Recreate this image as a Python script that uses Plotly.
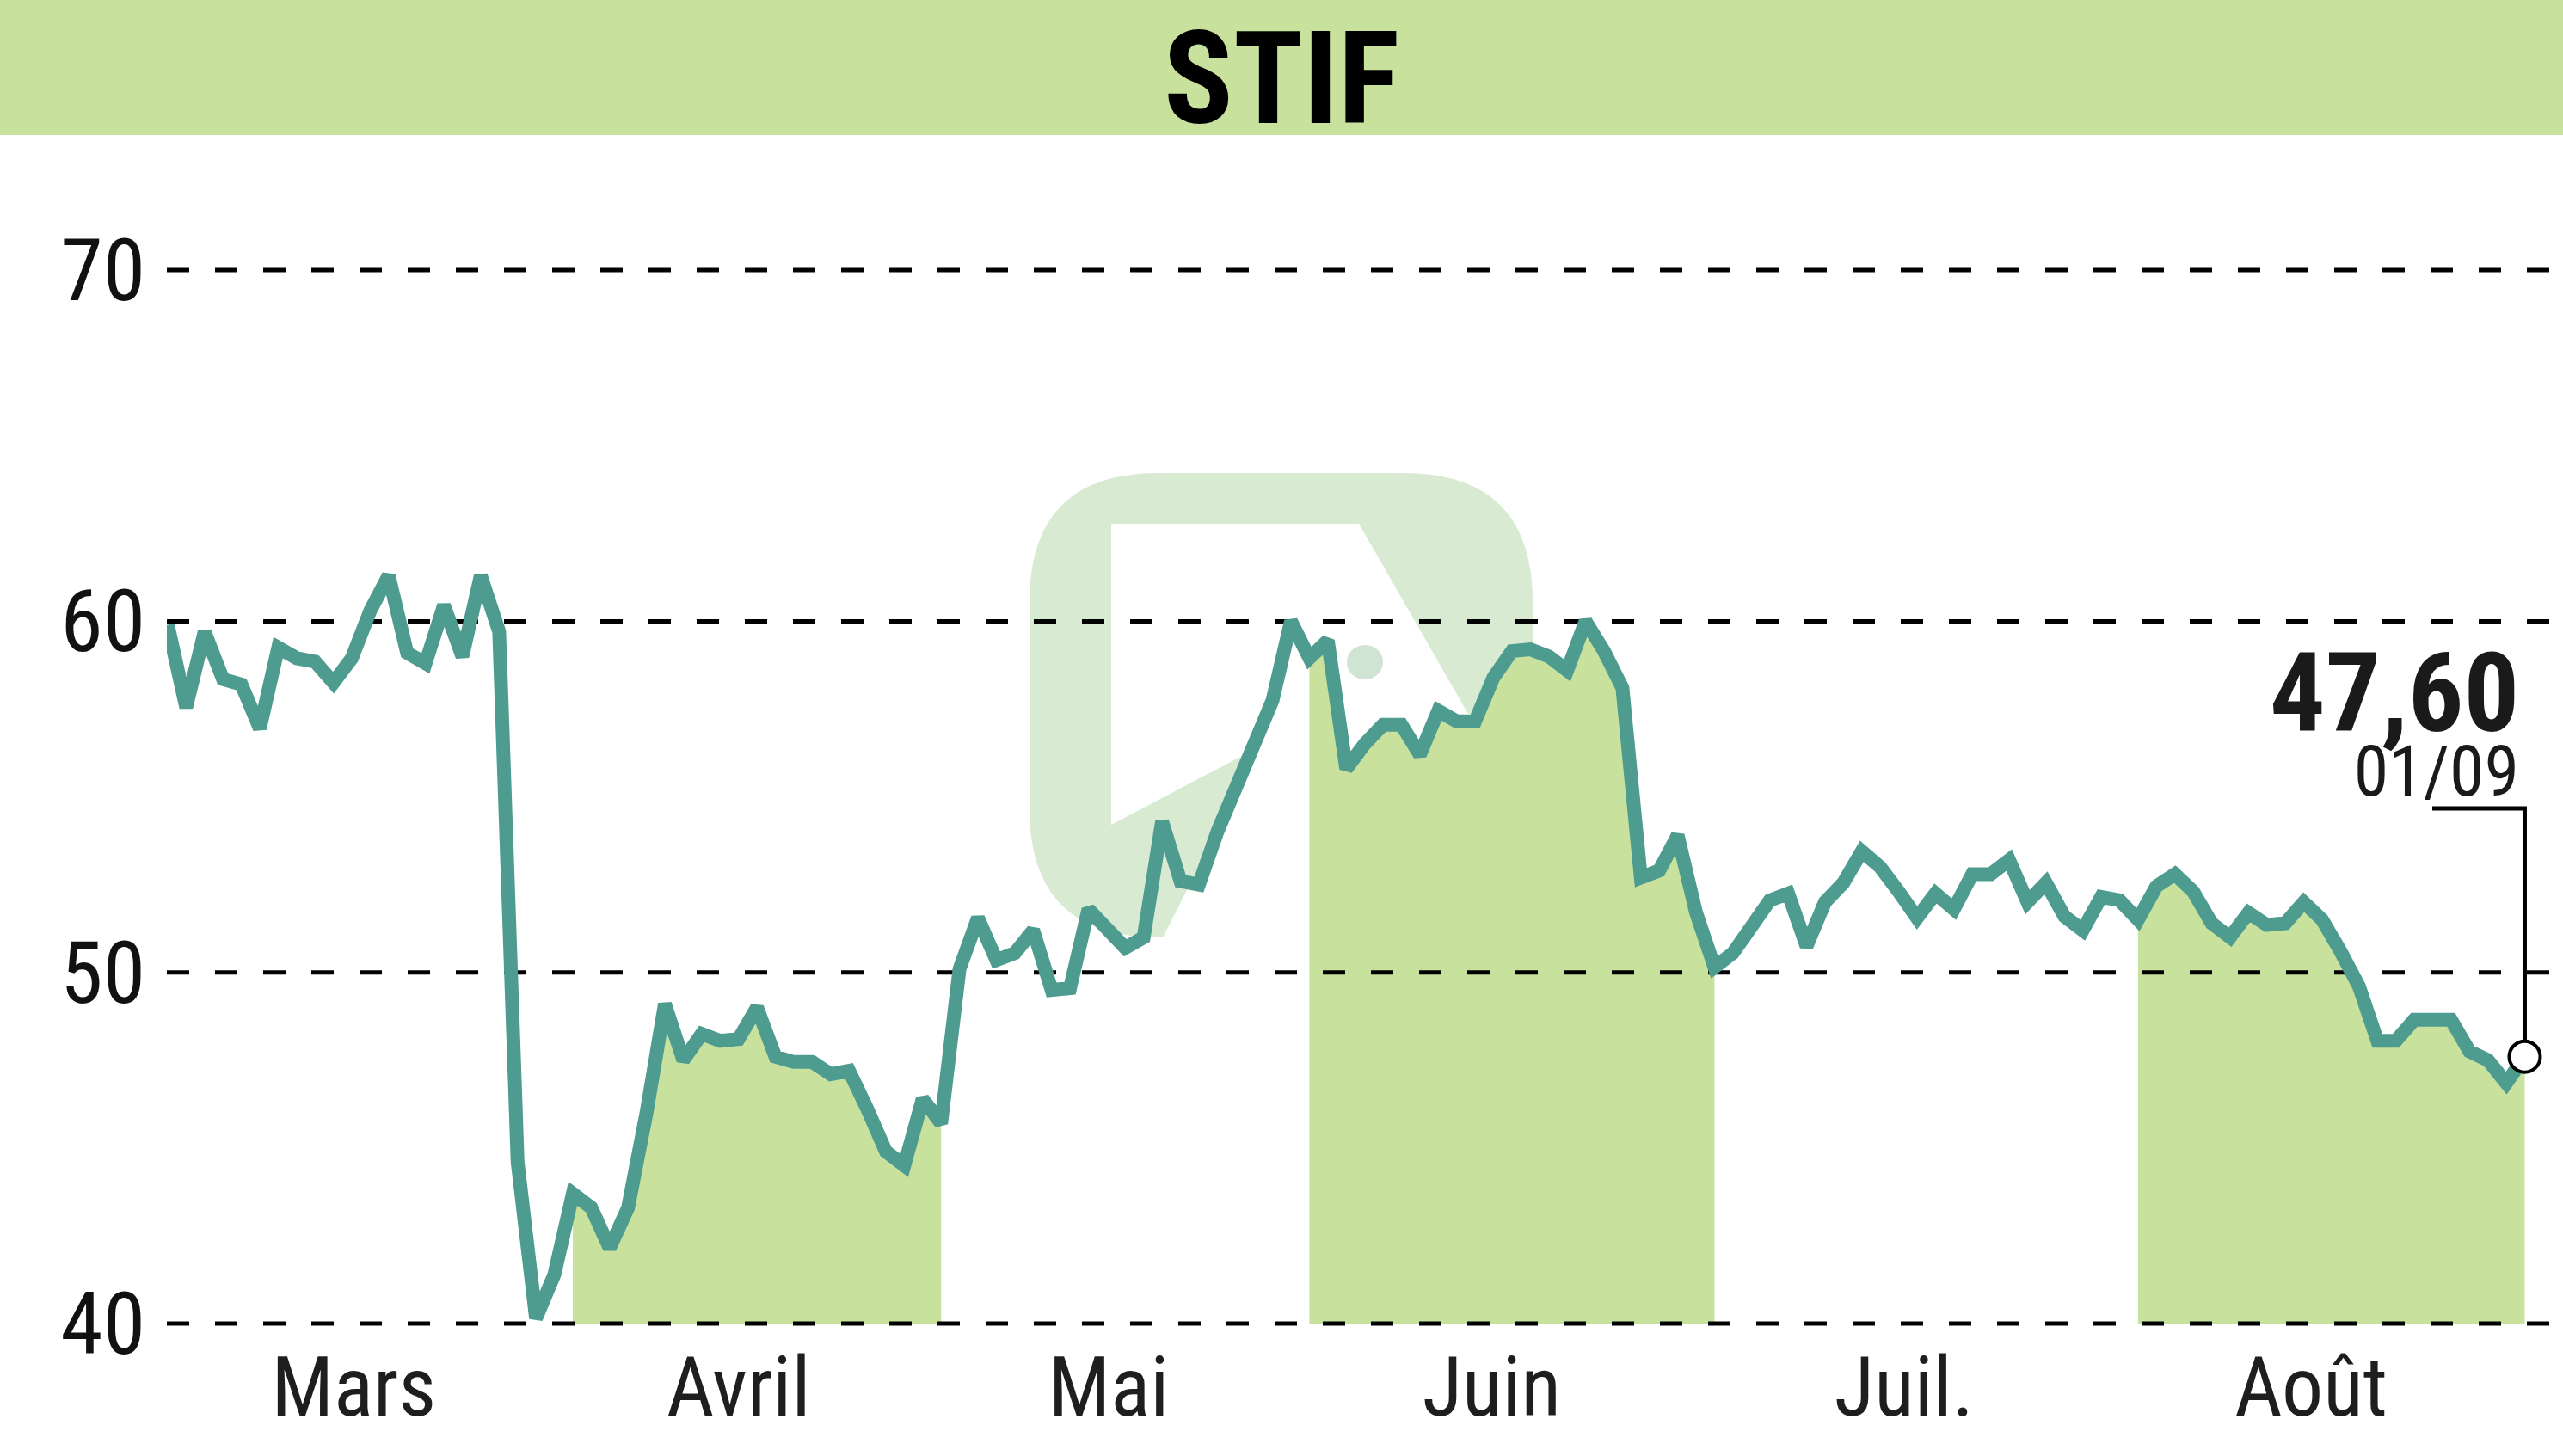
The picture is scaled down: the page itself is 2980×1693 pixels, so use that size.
import plotly.graph_objects as go

# ---------------- data ----------------
prices = [
    59.9, 57.55, 59.7, 58.35, 58.2, 56.95, 59.25, 58.95, 58.85, 58.25,
    58.95, 60.3, 61.3, 59.1, 58.8, 60.45, 59.0, 61.3, 59.7, 44.6,
    40.15, 41.4, 43.7, 43.3, 42.15, 43.3, 46.0, 49.1, 47.5, 48.25,
    48.05, 48.1, 49.0, 47.6, 47.45, 47.45, 47.1, 47.2, 46.1, 44.9,
    44.5, 46.4, 45.7, 50.1, 51.55, 50.35, 50.55, 51.2, 49.5, 49.55,
    51.8, 51.25, 50.7, 51.0, 54.3, 52.6, 52.5, 54.0, 55.25, 56.3,
    57.75, 60.0, 58.95, 59.45, 55.8, 56.5, 57.05, 57.05, 56.2, 57.45,
    57.15, 57.15, 58.4, 59.15, 59.2, 59.0, 58.6, 60.0, 59.15, 58.1,
    52.7, 52.9, 53.9, 51.7, 50.15, 50.55, 51.25, 52.05, 52.25, 50.75,
    52.0, 52.55, 53.45, 53.0, 52.3, 51.55, 52.25, 51.8, 52.8, 52.8,
    53.2, 52.0, 52.55, 51.6, 51.2, 52.15, 52.05, 51.5, 52.45, 52.8,
    52.3, 51.4, 51.0, 51.7, 51.35, 51.4, 52.0, 51.5, 50.6, 49.6,
    48.05, 48.05, 48.65, 48.65, 48.65, 47.75, 47.5, 46.85, 47.6,
]
month_labels = ["Mars", "Avril", "Mai", "Juin", "Juil.", "Août"]
month_tick_pos = [10.1, 31.0, 51.1, 71.9, 94.3, 116.4]
month_first_idx = [0, 23, 43, 63, 85, 108]
month_shaded = [False, True, False, True, False, True]
y_ticks = [40, 50, 60, 70]
title_text = "STIF"
last_value_text = "47,60"
last_date_text = "01/09"

# ---------------- layout geometry (pixels) ----------------
W, H = 2980, 1693
L, R, T, B = 194, 2980, 200, 1555
X0_PX, PX_PER_IDX = 195.0, 21.41          # index 0 position / spacing
Y40_PX, PX_PER_UNIT = 1539.0, 40.83        # value 40 position / scale

x_min = (L - X0_PX) / PX_PER_IDX
x_max = (R - X0_PX) / PX_PER_IDX
y_min = 40 - (B - Y40_PX) / PX_PER_UNIT
y_max = 40 + (Y40_PX - T) / PX_PER_UNIT


def px_x(p):
    return (p - L) / (R - L)


def px_y(p):
    return (B - p) / (B - T)


def val_at_px(p):
    return 40 + (Y40_PX - p) / PX_PER_UNIT


def idx_at_px(p):
    return (p - X0_PX) / PX_PER_IDX


FONT = "Liberation Sans Narrow, Roboto Condensed, DejaVu Sans Condensed, Liberation Sans, sans-serif"
GREEN = "#c8e29e"
TEAL = "#4e9b90"

fig = go.Figure()

# shaded month areas
n = len(prices)
for m, shaded in enumerate(month_shaded):
    if not shaded:
        continue
    a = max(month_first_idx[m] - 1, 0)
    b = month_first_idx[m + 1] - 1 if m + 1 < len(month_first_idx) else n - 1
    xs = list(range(a, b + 1))
    ys = prices[a:b + 1]
    base = y_ticks[0]
    fig.add_trace(go.Scatter(
        x=xs + [b, a], y=ys + [base, base], mode="lines", fill="toself",
        fillcolor=GREEN, line=dict(width=0, color=GREEN), hoverinfo="skip"))

# dashed grid lines (above fill, below price line)
gx, gy = [], []
for v in y_ticks:
    gx += [x_min, x_max, None]
    gy += [v, v, None]
fig.add_trace(go.Scatter(x=gx, y=gy, mode="lines",
                         line=dict(color="black", width=5, dash="26px,30px"),
                         hoverinfo="skip"))

# price line
fig.add_trace(go.Scatter(x=list(range(n)), y=prices, mode="lines",
                         line=dict(color=TEAL, width=16), hoverinfo="skip"))

# connector to last value label
last_i = n - 1
elbow_y = val_at_px(940)
left_x = idx_at_px(2828)
fig.add_trace(go.Scatter(x=[left_x, last_i, last_i], y=[elbow_y, elbow_y, prices[-1]],
                         mode="lines", line=dict(color="black", width=5),
                         hoverinfo="skip"))
fig.add_trace(go.Scatter(x=[last_i], y=[prices[-1]], mode="markers",
                         marker=dict(size=36, color="white",
                                     line=dict(color="black", width=4)),
                         hoverinfo="skip", cliponaxis=False))

# ---------------- shapes: title band and watermark ----------------
shapes = []
shapes.append(dict(type="rect", xref="paper", yref="paper",
                   x0=px_x(0), x1=px_x(W), y0=px_y(157), y1=px_y(0),
                   fillcolor=GREEN, line=dict(width=0), layer="below"))


def P(x, y):
    return f"{px_x(x):.5f},{px_y(y):.5f}"


logo_path = (
    f"M {P(1347, 550)} L {P(1632, 550)} Q {P(1782, 550)} {P(1782, 700)} "
    f"L {P(1782, 790)} Q {P(1782, 830)} {P(1742, 830)} L {P(1707, 830)} "
    f"L {P(1580, 609)} L {P(1292, 609)} L {P(1292, 959)} L {P(1465, 868)} "
    f"L {P(1352, 1090)} L {P(1347, 1090)} Q {P(1197, 1090)} {P(1197, 940)} "
    f"L {P(1197, 700)} Q {P(1197, 550)} {P(1347, 550)} Z"
)
shapes.append(dict(type="path", xref="paper", yref="paper", path=logo_path,
                   fillcolor="#d8ead2", line=dict(width=0), layer="below"))
shapes.append(dict(type="circle", xref="paper", yref="paper",
                   x0=px_x(1566), x1=px_x(1608), y0=px_y(790), y1=px_y(750),
                   fillcolor="#d0e4d4", line=dict(width=0), layer="below"))

# ---------------- annotations ----------------
value_block = (f"<span style='font-size:128px'><b>{last_value_text}</b></span>"
               f"<br><span style='font-size:82px'>{last_date_text}</span>")
annotations = [
    dict(text=f"<b>{title_text}</b>", xref="paper", yref="paper",
         x=px_x(1490), y=px_y(92), xanchor="center", yanchor="middle",
         showarrow=False, font=dict(family=FONT, size=150, color="black")),
    dict(text=value_block, xref="x", yref="paper", align="right",
         x=last_i, xshift=-4, y=px_y(838), xanchor="right", yanchor="middle",
         showarrow=False, font=dict(family=FONT, size=58, color="#1a1a1a")),
]

fig.update_layout(
    width=W, height=H,
    margin=dict(l=L, r=W - R, t=T, b=H - B, pad=0),
    paper_bgcolor="white", plot_bgcolor="rgba(0,0,0,0)",
    showlegend=False, hovermode=False,
    shapes=shapes, annotations=annotations,
    xaxis=dict(range=[x_min, x_max], showgrid=False, zeroline=False,
               showline=False, ticks="", tickvals=month_tick_pos,
               ticktext=month_labels, ticklabelstandoff=-6,
               tickfont=dict(family=FONT, size=96, color="#1e1e1e")),
    yaxis=dict(range=[y_min, y_max], showgrid=False, zeroline=False,
               showline=False, ticks="", tickvals=y_ticks,
               ticktext=[str(v) for v in y_ticks], ticklabelstandoff=24,
               tickfont=dict(family=FONT, size=100, color="#111111")),
)

fig.write_html("out.html", config={"displayModeBar": False},
               post_script="document.body.style.margin='0px';"
                           "document.body.style.padding='0px';"
                           "document.body.style.overflow='hidden';")
